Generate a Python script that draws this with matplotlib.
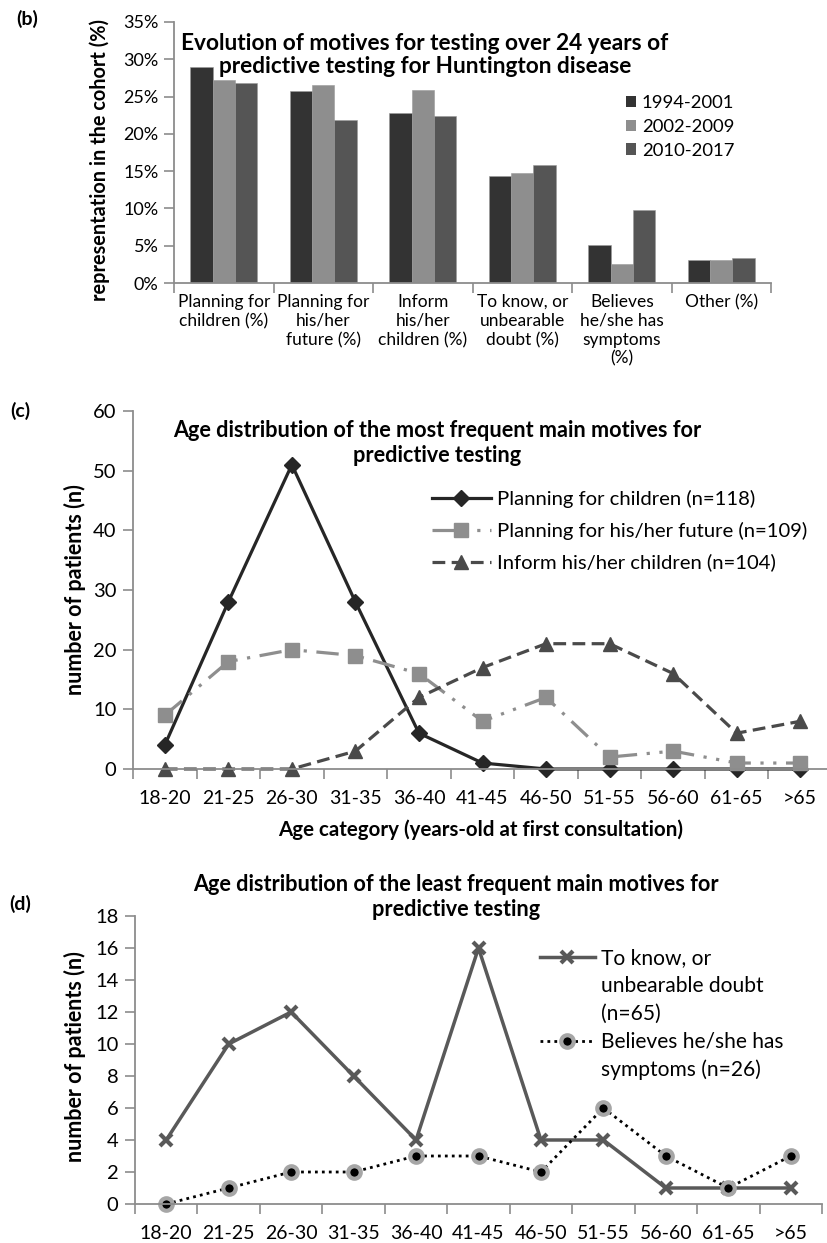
import matplotlib
matplotlib.use("Agg")
import matplotlib.pyplot as plt
from matplotlib.lines import Line2D
from matplotlib.patches import Patch
import numpy as np

plt.rcParams['font.family'] = ['Lato', 'DejaVu Sans']

# (b) motives for testing, share of each period's cohort (%)
motives = ["Planning for\nchildren (%)", "Planning for\nhis/her\nfuture (%)",
           "Inform\nhis/her\nchildren (%)", "To know, or\nunbearable\ndoubt (%)",
           "Believes\nhe/she has\nsymptoms\n(%)", "Other (%)"]
periods = ["1994-2001", "2002-2009", "2010-2017"]
pct_1994_2001 = [28.9, 25.7, 22.8, 14.4, 5.1, 3.1]
pct_2002_2009 = [27.2, 26.5, 25.9, 14.8, 2.5, 3.1]
pct_2010_2017 = [26.8, 21.8, 22.4, 15.8, 9.8, 3.3]

# (c) and (d) number of patients per age category
ages = ["18-20", "21-25", "26-30", "31-35", "36-40", "41-45",
        "46-50", "51-55", "56-60", "61-65", ">65"]
planning_children = [4, 28, 51, 28, 6, 1, 0, 0, 0, 0, 0]
planning_future = [9, 18, 20, 19, 16, 8, 12, 2, 3, 1, 1]
inform_children = [0, 0, 0, 3, 12, 17, 21, 21, 16, 6, 8]
to_know = [4, 10, 12, 8, 4, 16, 4, 4, 1, 1, 1]
believes_symptoms = [0, 1, 2, 2, 3, 3, 2, 6, 3, 1, 3]

W, H = 827, 1243
fig = plt.figure(figsize=(W / 100, H / 100), dpi=100)


def box(l, t, r, b):
    return [l / W, 1 - b / H, (r - l) / W, (b - t) / H]


def fpos(x, y):
    return x / W, 1 - y / H


AXC = '#8c8c8c'


def style(ax, n):
    for s in ['top', 'right']:
        ax.spines[s].set_visible(False)
    for s in ['left', 'bottom']:
        ax.spines[s].set_color(AXC)
        ax.spines[s].set_linewidth(1.3)
    ax.set_xlim(-0.5, n - 0.5)
    ax.set_xticks(np.arange(n))
    ax.set_xticks(np.arange(n + 1) - 0.5, minor=True)
    ax.tick_params(axis='x', which='major', length=0)
    ax.tick_params(axis='x', which='minor', length=7, width=1.2, color=AXC)
    ax.tick_params(axis='y', length=7, width=1.2, color=AXC)


# ---------- (b) grouped bars ----------
axb = fig.add_axes(box(174, 22, 771, 283))
x = np.arange(len(motives))
bw = 0.224
series = [pct_1994_2001, pct_2002_2009, pct_2010_2017]
colors = ['#333333', '#8e8e8e', '#555555']
for i, (vals, c, lab) in enumerate(zip(series, colors, periods)):
    axb.bar(x + (i - 1) * bw, vals, width=bw, color=c, edgecolor='#9a9a9a',
            linewidth=0.4, label=lab)
style(axb, len(motives))
axb.set_ylim(0, 35)
axb.set_yticks(range(0, 36, 5))
axb.set_yticklabels([f"{v}%" for v in range(0, 36, 5)], fontsize=13)
axb.set_xticklabels(motives, fontsize=12.5, linespacing=1.22)
axb.tick_params(axis='x', which='major', pad=8)
axb.tick_params(axis='y', pad=4)
fig.text(*fpos(100, 160), "representation in the cohort (%)", rotation=90,
         ha='center', va='center', fontsize=14.3, fontweight='bold')
fig.text(*fpos(425, 55), "Evolution of motives for testing over 24 years of\n"
         "predictive testing for Huntington disease", ha='center', va='center',
         fontsize=16.3, fontweight='bold', linespacing=1.12)
handles_b = [Patch(facecolor=c, edgecolor='none') for c in colors]
fig.legend(handles_b, periods, loc='upper left', bbox_to_anchor=fpos(626, 95),
           frameon=False, fontsize=13.3, handlelength=0.55, handleheight=0.55,
           handletextpad=0.3, labelspacing=0.42, borderpad=0, borderaxespad=0)
fig.text(*fpos(27, 19), "(b)", ha='center', va='center', fontsize=14,
         fontweight='bold')

# ---------- (c) most frequent motives ----------
axc = fig.add_axes(box(133, 411, 832, 769))
xa = np.arange(len(ages))
axc.plot(xa, planning_children, color='#262626', lw=2.3, marker='D', ms=8,
         label="Planning for children (n=118)")
axc.plot(xa, planning_future, color='#8e8e8e', lw=2.3,
         linestyle=(0, (7, 3, 1, 3, 1, 3)), marker='s', ms=10,
         label="Planning for his/her future (n=109)")
axc.plot(xa, inform_children, color='#4a4a4a', lw=2.3, linestyle=(0, (4, 2)),
         marker='^', ms=10, label="Inform his/her children (n=104)")
style(axc, len(ages))
axc.set_ylim(0, 60)
axc.set_yticks(range(0, 61, 10))
axc.tick_params(axis='y', labelsize=14.5, pad=5)
axc.set_xticklabels(ages, fontsize=14)
axc.tick_params(axis='x', which='major', pad=15)
for ln in axc.lines:
    ln.set_clip_on(False)
fig.text(*fpos(75, 590), "number of patients (n)", rotation=90, ha='center',
         va='center', fontsize=15.5, fontweight='bold')
fig.text(*fpos(437, 443), "Age distribution of the most frequent main motives for\n"
         "predictive testing", ha='center', va='center', fontsize=15.6,
         fontweight='bold', linespacing=1.2)
fig.text(*fpos(481, 830), "Age category (years-old at first consultation)",
         ha='center', va='center', fontsize=14.8, fontweight='bold')
axc.legend(loc='upper left', bbox_to_anchor=fpos(432, 490),
           bbox_transform=fig.transFigure, frameon=False, fontsize=14.6,
           handlelength=2.9, handletextpad=0.3, labelspacing=0.68,
           borderpad=0, borderaxespad=0)
fig.text(*fpos(20, 411), "(c)", ha='center', va='center', fontsize=14,
         fontweight='bold')

# ---------- (d) least frequent motives ----------
axd = fig.add_axes(box(135, 916, 822, 1204))
l1, = axd.plot(xa, to_know, color='#595959', lw=2.5, marker='x', ms=9, mew=3)
l2, = axd.plot(xa, believes_symptoms, color='black', lw=2, linestyle=(0, (1, 1.5)),
               marker='o', ms=9, mfc='black', mec='#a6a6a6', mew=3)
style(axd, len(ages))
axd.set_ylim(0, 18)
axd.set_yticks(range(0, 19, 2))
axd.tick_params(axis='y', labelsize=14.5, pad=5)
axd.set_xticklabels(ages, fontsize=14)
axd.tick_params(axis='x', which='major', pad=15)
for ln in axd.lines:
    ln.set_clip_on(False)
fig.text(*fpos(75, 1057), "number of patients (n)", rotation=90, ha='center',
         va='center', fontsize=15.5, fontweight='bold')
fig.text(*fpos(456, 897), "Age distribution of the least frequent main motives for\n"
         "predictive testing", ha='center', va='center', fontsize=15.6,
         fontweight='bold', linespacing=1.2)
blank = Line2D([], [], linestyle='none')
axd.legend([l1, blank, blank, l2, blank],
           ["To know, or", "unbearable doubt", "(n=65)", "Believes he/she has",
            "symptoms (n=26)"],
           loc='upper left', bbox_to_anchor=fpos(540, 948),
           bbox_transform=fig.transFigure, frameon=False, fontsize=15.1,
           handlelength=2.6, handletextpad=0.3, labelspacing=0.38,
           borderpad=0, borderaxespad=0)
fig.text(*fpos(20, 904), "(d)", ha='center', va='center', fontsize=14,
         fontweight='bold')

fig.savefig("out.png", dpi=100)
